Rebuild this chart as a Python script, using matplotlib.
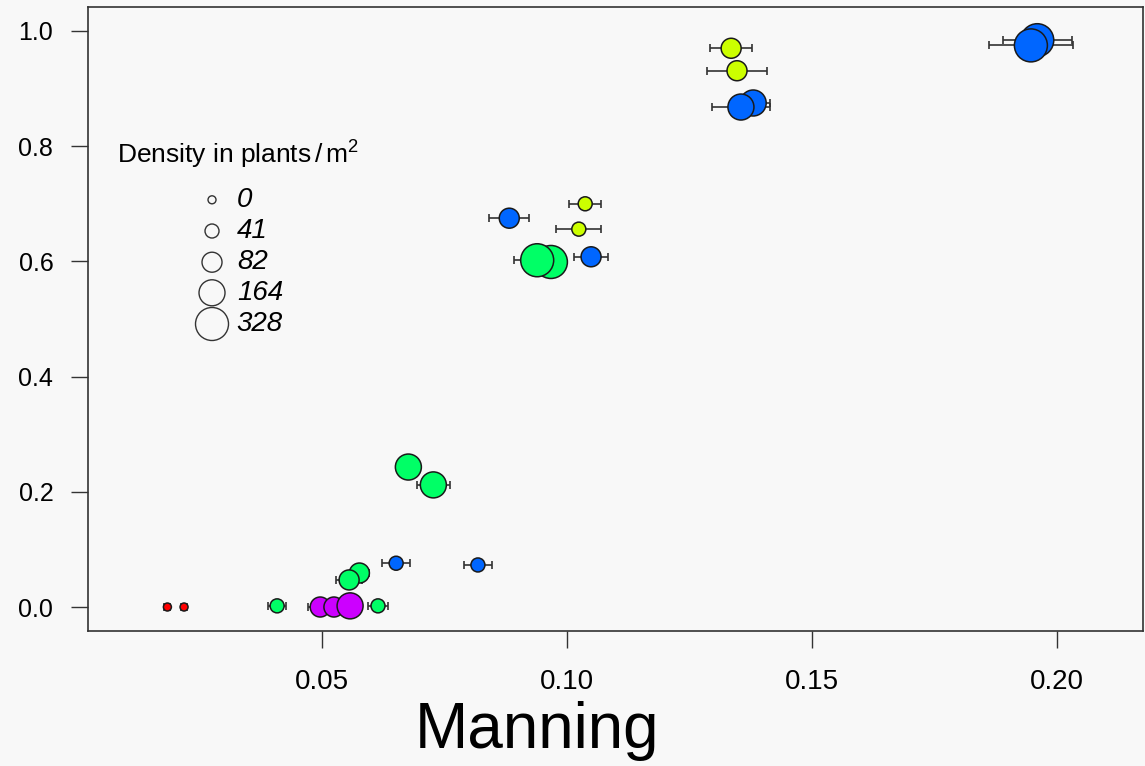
import numpy as np
import matplotlib
matplotlib.use('Agg')
import matplotlib.pyplot as plt

plt.rcParams['font.family'] = ['Liberation Sans', 'DejaVu Sans']
plt.rcParams['mathtext.fontset'] = 'custom'
plt.rcParams['mathtext.rm'] = 'Liberation Sans'
plt.rcParams['mathtext.it'] = 'Liberation Sans:italic'

# data
manning = [0.0184, 0.0218, 0.0408, 0.0496, 0.0524, 0.0557, 0.0614, 0.0576, 0.0555,
           0.0651, 0.0818, 0.0676, 0.0727, 0.0882, 0.1037, 0.1024, 0.0967, 0.0939,
           0.1049, 0.1335, 0.1347, 0.1380, 0.1355, 0.1960, 0.1947]
yval = [0.0, 0.0, 0.002, 0.0, 0.0, 0.002, 0.002, 0.059, 0.047,
        0.076, 0.073, 0.243, 0.212, 0.675, 0.700, 0.656, 0.599, 0.602,
        0.608, 0.970, 0.931, 0.875, 0.868, 0.984, 0.975]
manning_err = [0.0006, 0.0006, 0.0019, 0.0024, 0.002, 0.002, 0.002, 0.002, 0.0027,
               0.0029, 0.0028, 0.002, 0.0033, 0.0041, 0.0033, 0.0046, 0.003, 0.0047,
               0.0035, 0.0043, 0.0061, 0.0035, 0.006, 0.007, 0.0085]
density = [0, 0, 41, 82, 82, 164, 41, 82, 82,
           41, 41, 164, 164, 82, 41, 41, 328, 328,
           82, 82, 82, 164, 164, 328, 328]
group = [0, 0, 2, 4, 4, 4, 2, 2, 2,
         3, 3, 2, 2, 3, 1, 1, 2, 2,
         3, 1, 1, 3, 3, 3, 3]

legend_levels = [0, 41, 82, 164, 328]
palette = ['#FF0000', '#CCFF00', '#00FF66', '#0066FF', '#CC00FF']

# marker radius in pixels for each density level
radius_px = {0: 4, 41: 7, 82: 10, 164: 13, 328: 16.5}


def msize(d):
    return (2 * radius_px[d] * 0.72) ** 2


bg = '#f8f8f8'
fig = plt.figure(figsize=(11.45, 7.66), dpi=100, facecolor=bg)
ax = fig.add_axes([0.0769, 0.1762, 0.9214, 0.8147], facecolor=bg)

ax.errorbar(manning, yval, xerr=manning_err, fmt='none', ecolor='#333333',
            elinewidth=1.2, capsize=3, capthick=1.2, zorder=2)
ax.scatter(manning, yval, s=[msize(d) for d in density],
           c=[palette[g] for g in group], edgecolors='#1a1a1a', linewidths=1.1,
           zorder=3)

ax.set_xlim(0.0022, 0.2176)
ax.set_ylim(-0.0417, 1.0417)
ax.set_xticks([0.05, 0.10, 0.15, 0.20])
ax.set_xticklabels(['0.05', '0.10', '0.15', '0.20'], fontsize=20)
ax.set_yticks([0.0, 0.2, 0.4, 0.6, 0.8, 1.0])
ax.set_yticklabels(['0.0', '0.2', '0.4', '0.6', '0.8', '1.0'], fontsize=18)
ax.tick_params(axis='both', direction='out', length=12, width=1, color='#333333')
ax.tick_params(axis='x', pad=15)
ax.tick_params(axis='y', pad=13)
for sp in ax.spines.values():
    sp.set_color('#333333')
    sp.set_linewidth(1.2)

fig.text(0.469, 0.024, 'Manning', fontsize=46, ha='center', va='baseline')

# size legend
ax.text(0.027, 0.763, 'Density in plants$\\,/\\,\\mathrm{m}^2$', fontsize=19,
        ha='left', va='center', transform=ax.transAxes)
leg_y = [0.691, 0.641, 0.591, 0.542, 0.492]
for lv, ly in zip(legend_levels, leg_y):
    ax.scatter([0.1175], [ly], s=msize(lv), facecolors='none', edgecolors='#333333',
               linewidths=1, transform=ax.transAxes, zorder=4)
    ax.text(0.141, ly, str(lv), fontsize=20, style='italic', ha='left', va='center',
            transform=ax.transAxes)

fig.savefig('out.png', dpi=100, facecolor=bg)
